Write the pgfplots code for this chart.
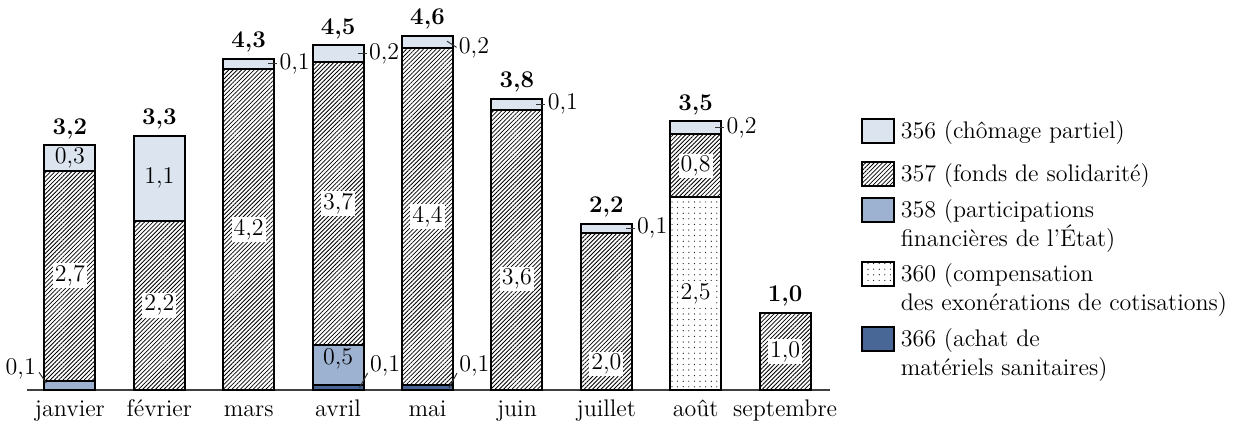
\documentclass[border=0pt]{standalone}
\usepackage{fontspec}
\usepackage{pgfplots}
\pgfplotsset{compat=1.18}
\usetikzlibrary{patterns.meta}

\definecolor{c356}{RGB}{220,228,240}
\definecolor{c358}{RGB}{157,178,208}
\definecolor{c366}{RGB}{72,102,150}

\begin{document}
\begin{tikzpicture}[font=\fontsize{12}{14.5}\selectfont,
  lab/.style={inner sep=1pt},
  labw/.style={inner sep=1pt, fill=white},
  tot/.style={anchor=base, yshift=5.5pt, font=\fontsize{12}{14.5}\selectfont\bfseries},
  lead/.style={line width=0.5pt, black!80}]
\begin{axis}[
  name=ax,
  scale only axis,
  width=401.4pt, height=184.8pt,
  ybar stacked, bar width=0.57,
  xmin=-0.48, xmax=8.5, ymin=0, ymax=4.8,
  axis y line=none, axis x line*=bottom,
  x axis line style={line width=0.6pt, black!75},
  xtick={0,...,8},
  xticklabels={janvier,février,mars,avril,mai,juin,juillet,août,septembre},
  major tick length=0pt,
  xticklabel style={anchor=base, yshift=-13.5pt},
  ytick=\empty,
  clip=false,
  every axis plot/.append style={draw=black, line width=1pt},
  box legend/.style={legend image code/.code={\draw[##1] (0pt,-6pt) rectangle (16pt,6pt);}},
  box legend pad/.style={legend image code/.code={\draw[##1] (0pt,-6pt) rectangle (16pt,6pt); \path (0pt,9.5pt);}},
  box legend two/.style={legend image code/.code={\draw[##1] (0pt,1.25pt) rectangle (16pt,13.25pt);}},
  reverse legend,
  legend cell align=left,
  legend style={draw=none, fill=none, at={(axis description cs:1.0386,0.736)},
    anchor=north west, inner sep=0pt, outer sep=0pt, row sep=5pt, column sep=2pt,
    nodes={inner sep=1pt}, cells={align=left}},
]
% stacked from the bottom: 366, 360, 358, 357, 356
\addplot[fill=c366, box legend two] coordinates {(0,0) (1,0) (2,0) (3,0.06) (4,0.06) (5,0) (6,0) (7,0) (8,0)};
\addlegendentry{366 (achat de\\matériels sanitaires)}
\addplot[fill=white, postaction={pattern={Dots[distance=2.8pt, radius=0.3pt]}}, box legend two]
  coordinates {(0,0) (1,0) (2,0) (3,0) (4,0) (5,0) (6,0) (7,2.50) (8,0)};
\addlegendentry{360 (compensation\\des exonérations de cotisations)}
\addplot[fill=c358, box legend two] coordinates {(0,0.12) (1,0) (2,0) (3,0.52) (4,0) (5,0) (6,0) (7,0) (8,0)};
\addlegendentry{358 (participations\\financières de l’État)}
\addplot[fill=white, postaction={pattern={Lines[angle=45, distance=1.5pt, line width=0.4pt]}}, box legend pad]
  coordinates {(0,2.73) (1,2.20) (2,4.17) (3,3.68) (4,4.38) (5,3.64) (6,2.04) (7,0.82) (8,1.00)};
\addlegendentry{357 (fonds de solidarité)}
\addplot[fill=c356, box legend] coordinates {(0,0.33) (1,1.10) (2,0.13) (3,0.22) (4,0.16) (5,0.14) (6,0.12) (7,0.17) (8,0)};
\addlegendentry{356 (chômage partiel)}

% anchor points for the value labels, drawn over the bars below
\coordinate (i1) at (axis cs:0,3.015);
\coordinate (i2) at (axis cs:0,1.485);
\coordinate (i3) at (axis cs:1,2.75);
\coordinate (i4) at (axis cs:1,1.10);
\coordinate (i5) at (axis cs:2,2.085);
\coordinate (i6) at (axis cs:3,0.40);
\coordinate (i7) at (axis cs:3,2.42);
\coordinate (i8) at (axis cs:4,2.25);
\coordinate (i9) at (axis cs:5,1.44);
\coordinate (i10) at (axis cs:6,0.34);
\coordinate (i11) at (axis cs:7,2.91);
\coordinate (i12) at (axis cs:7,1.25);
\coordinate (i13) at (axis cs:8,0.50);

\coordinate (r1a) at (axis cs:2.218,4.235); \coordinate (r1b) at (axis cs:2.319,4.235);
\coordinate (r2a) at (axis cs:3.218,4.37);  \coordinate (r2b) at (axis cs:3.319,4.37);
\coordinate (r3a) at (axis cs:4.218,4.53);  \coordinate (r3b) at (axis cs:4.325,4.45);
\coordinate (r4a) at (axis cs:5.218,3.71);  \coordinate (r4b) at (axis cs:5.319,3.71);
\coordinate (r5a) at (axis cs:6.218,2.10);  \coordinate (r5b) at (axis cs:6.319,2.10);
\coordinate (r6a) at (axis cs:7.218,3.405); \coordinate (r6b) at (axis cs:7.319,3.405);
\coordinate (b1a) at (axis cs:3.24,0.03);   \coordinate (b1b) at (axis cs:3.33,0.22); \coordinate (b1c) at (axis cs:3.33,0.32);
\coordinate (b2a) at (axis cs:4.24,0.03);   \coordinate (b2b) at (axis cs:4.33,0.22); \coordinate (b2c) at (axis cs:4.33,0.32);
\coordinate (l1a) at (axis cs:-0.345,0.23); \coordinate (l1b) at (axis cs:-0.265,0.09); \coordinate (l1c) at (axis cs:-0.355,0.27);

\coordinate (t0) at (axis cs:0,3.18);
\coordinate (t1) at (axis cs:1,3.30);
\coordinate (t2) at (axis cs:2,4.30);
\coordinate (t3) at (axis cs:3,4.48);
\coordinate (t4) at (axis cs:4,4.60);
\coordinate (t5) at (axis cs:5,3.78);
\coordinate (t6) at (axis cs:6,2.16);
\coordinate (t7) at (axis cs:7,3.49);
\coordinate (t8) at (axis cs:8,1.00);
\end{axis}

% values inside the segments
\node[lab]  at (i1)  {0,3};
\node[labw] at (i2)  {2,7};
\node[lab]  at (i3)  {1,1};
\node[labw] at (i4)  {2,2};
\node[labw] at (i5)  {4,2};
\node[lab]  at (i6)  {0,5};
\node[labw] at (i7)  {3,7};
\node[labw] at (i8)  {4,4};
\node[labw] at (i9)  {3,6};
\node[labw] at (i10) {2,0};
\node[labw] at (i11) {0,8};
\node[labw] at (i12) {2,5};
\node[labw] at (i13) {1,0};

% small segments labelled beside the bars
\draw[lead] (r1a) -- (r1b); \node[lab, anchor=west] at (r1b) {0,1};
\draw[lead] (r2a) -- (r2b); \node[lab, anchor=west] at (r2b) {0,2};
\draw[lead] (r3a) -- (r3b); \node[lab, anchor=west] at (r3b) {0,2};
\draw[lead] (r4a) -- (r4b); \node[lab, anchor=west] at (r4b) {0,1};
\draw[lead] (r5a) -- (r5b); \node[lab, anchor=west] at (r5b) {0,1};
\draw[lead] (r6a) -- (r6b); \node[lab, anchor=west] at (r6b) {0,2};
\draw[lead] (b1a) -- (b1b); \node[lab, anchor=west] at (b1c) {0,1};
\draw[lead] (b2a) -- (b2b); \node[lab, anchor=west] at (b2c) {0,1};
\draw[lead] (l1a) -- (l1b); \node[lab, anchor=east] at (l1c) {0,1};

% totals
\node[tot] at (t0) {3,2};
\node[tot] at (t1) {3,3};
\node[tot] at (t2) {4,3};
\node[tot] at (t3) {4,5};
\node[tot] at (t4) {4,6};
\node[tot] at (t5) {3,8};
\node[tot] at (t6) {2,2};
\node[tot] at (t7) {3,5};
\node[tot] at (t8) {1,0};

\pgfresetboundingbox
\path[use as bounding box] ([shift={(-13.5pt,-18pt)}]ax.south west) rectangle ([shift={(604pt,195pt)}]ax.south west);
\end{tikzpicture}
\end{document}
